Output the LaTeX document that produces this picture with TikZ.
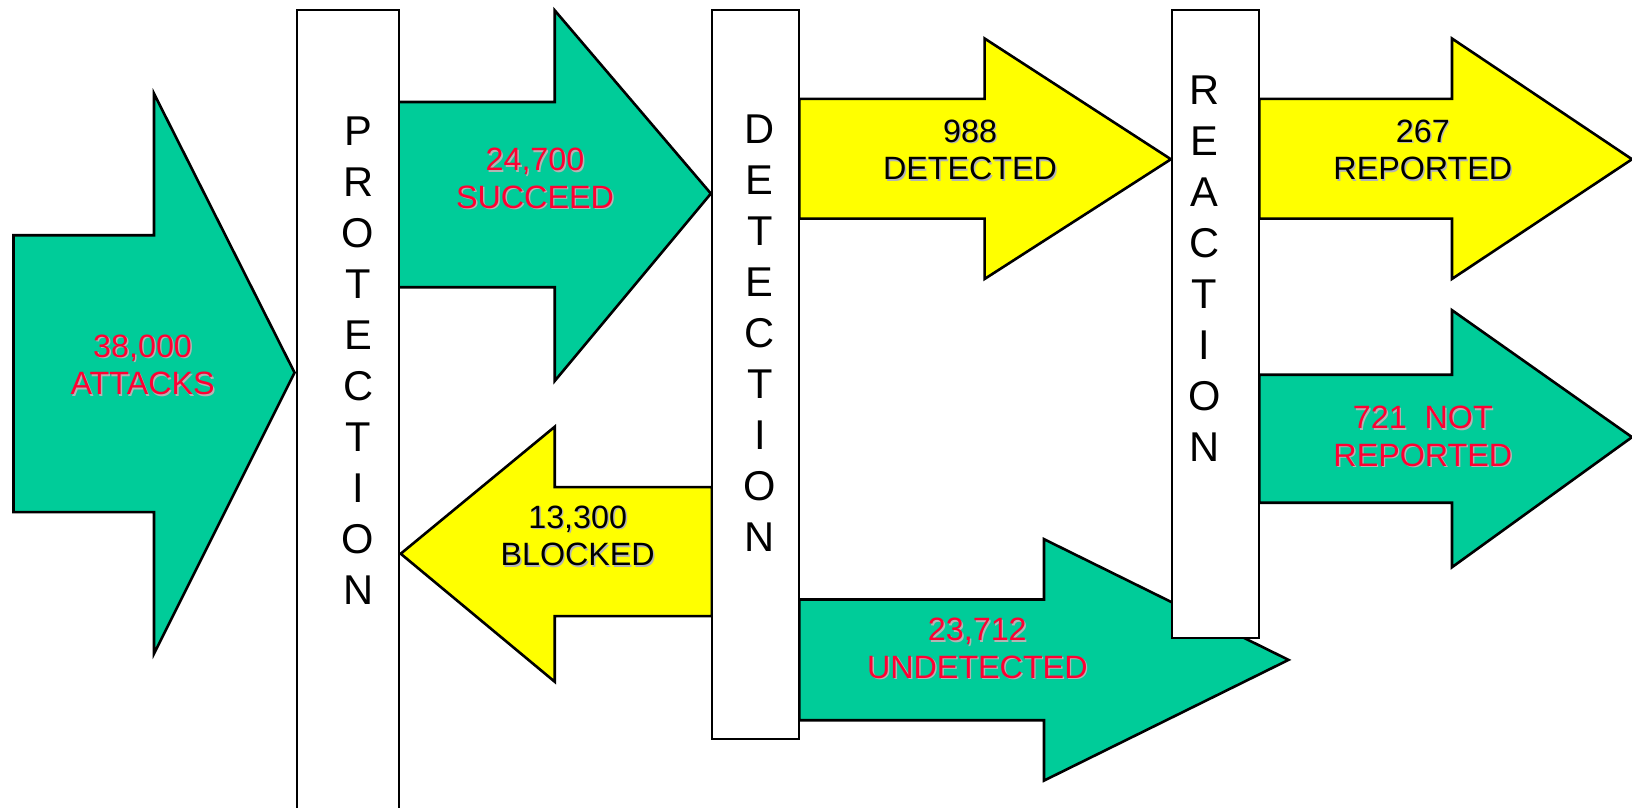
\documentclass[tikz,border=0pt]{standalone}
\usepackage{fontspec}
\setmainfont{Liberation Sans}
\definecolor{flowgreen}{HTML}{00CC99}
\definecolor{flowyellow}{HTML}{FFFF00}
\definecolor{flowred}{HTML}{FF0033}
\definecolor{textshade}{HTML}{B4B4B4}

% two-line count label with a soft drop shadow: name, x, y, colour, text
\newcommand\countlabel[5]{%
  \node[countfont, text=textshade, xshift=0.7pt, yshift=-0.7pt] (#1-shade) at (#2,#3) {#5};
  \node[countfont, text=#4] (#1) at (#2,#3) {#5};
}

\begin{document}
\begin{tikzpicture}[x=0.5pt, y=-0.5pt,
  flowarrow/.style={draw=black, line width=1.25pt, line join=miter},
  stagebox/.style={draw=black, fill=white, line width=1pt},
  stagefont/.style={inner sep=0pt, align=center, font=\fontsize{20}{24.5}\selectfont},
  countfont/.style={inner sep=0pt, align=center, font=\fontsize{15.5}{18}\selectfont}]

\useasboundingbox (0,0) rectangle (1568,776);
\clip (0,0) rectangle (1568,776);

% flow arrows
\draw[flowarrow, fill=flowgreen] (13,226) -- (148,226) -- (148,90) -- (283,358)
  -- (148,628) -- (148,492) -- (13,492) -- cycle;
\draw[flowarrow, fill=flowgreen] (383,98) -- (533,98) -- (533,10) -- (683,186)
  -- (533,366) -- (533,276) -- (383,276) -- cycle;
\draw[flowarrow, fill=flowyellow] (684,468) -- (533,468) -- (533,410) -- (385,532)
  -- (533,655) -- (533,592) -- (684,592) -- cycle;
\draw[flowarrow, fill=flowyellow] (768,95) -- (946,95) -- (946,37) -- (1125,153)
  -- (946,268) -- (946,210) -- (768,210) -- cycle;
\draw[flowarrow, fill=flowgreen] (768,576) -- (1003,576) -- (1003,518) -- (1238,634)
  -- (1003,750) -- (1003,692) -- (768,692) -- cycle;
\draw[flowarrow, fill=flowyellow] (1210,95) -- (1395,95) -- (1395,37) -- (1568,153)
  -- (1395,268) -- (1395,210) -- (1210,210) -- cycle;
\draw[flowarrow, fill=flowgreen] (1210,360) -- (1395,360) -- (1395,298) -- (1568,420)
  -- (1395,545) -- (1395,483) -- (1210,483) -- cycle;

% stage columns
\path[stagebox] (285,10) rectangle (383,800);
\path[stagebox] (684,10) rectangle (768,710);
\path[stagebox] (1126,10) rectangle (1210,613);

\node[stagefont] (protection) at (344,346.5) {P\\R\\O\\T\\E\\C\\T\\I\\O\\N};
\node[stagefont] (detection) at (730,320.5) {D\\E\\T\\E\\C\\T\\I\\O\\N};
\node[stagefont] (reaction) at (1157,258.5) {R\\E\\A\\C\\T\\I\\O\\N};

% counts
\countlabel{attacks}{137}{350.5}{flowred}{38,000\\ATTACKS}
\countlabel{succeed}{514}{171.5}{flowred}{24,700\\SUCCEED}
\countlabel{blocked}{555}{515}{black}{13,300\\BLOCKED}
\countlabel{detected}{932}{144}{black}{988\\DETECTED}
\countlabel{undetected}{939}{623}{flowred}{23,712\\UNDETECTED}
\countlabel{reported}{1367}{144}{black}{267\\REPORTED}
\countlabel{notreported}{1367}{419.5}{flowred}{721\ \ NOT\\REPORTED}
\end{tikzpicture}
\end{document}
